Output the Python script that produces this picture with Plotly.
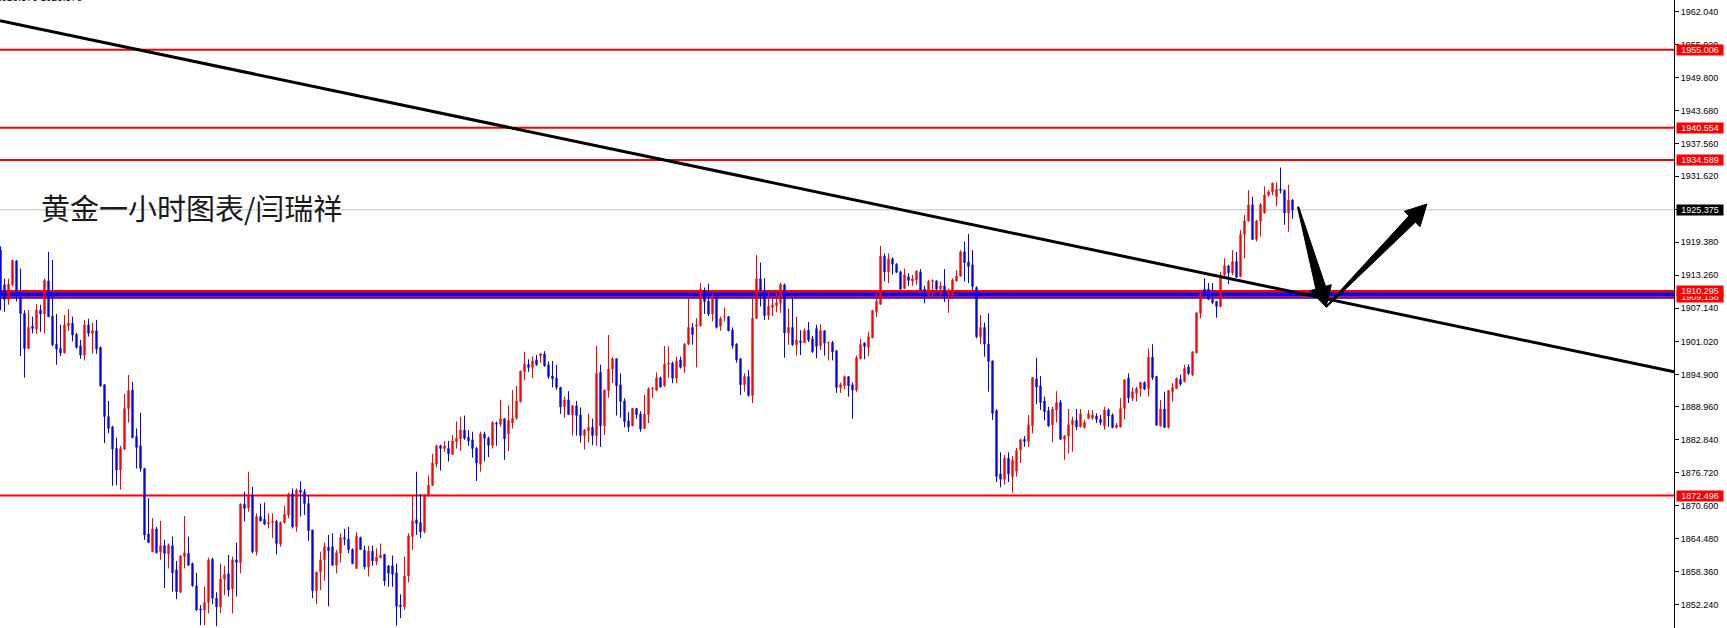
import plotly.graph_objects as go

# ---------------- data (XAUUSD 1H candles) ----------------
opens = [1917.9,1911.5,1908.8,1911.5,1915.9,1909.3,1906.2,1899.7,1903.8,1903.3,1906.8,1906.1,1912.2,1905.7,1900.5,1899.7,1898.9,1903.9,1904.4,1902.3,
1900.2,1898.5,1904.1,1902.5,1903.0,1899.9,1893.0,1887.1,1885.2,1881.2,1877.2,1881.1,1888.6,1892.0,1883.4,1881.7,1877.5,1865.4,1862.1,1866.3,
1862.1,1863.2,1861.7,1863.2,1858.7,1854.6,1861.2,1861.8,1859.9,1855.8,1851.5,1851.3,1852.7,1860.7,1853.5,1851.9,1857.0,1858.0,1855.2,1860.6,
1860.1,1870.9,1870.2,1872.6,1862.1,1868.6,1868.1,1867.3,1867.5,1867.7,1863.5,1867.5,1868.9,1872.8,1866.7,1873.5,1873.2,1871.0,1866.1,1854.9,
1858.3,1860.6,1862.9,1863.0,1859.6,1861.8,1864.7,1864.4,1862.5,1859.0,1864.7,1862.4,1859.3,1862.2,1860.3,1861.0,1861.6,1859.5,1859.5,1858.2,
1852.2,1851.9,1857.6,1864.9,1868.0,1867.5,1865.8,1872.5,1874.4,1878.3,1881.7,1881.2,1881.2,1880.1,1882.5,1883.0,1884.6,1883.3,1882.8,1881.2,
1878.3,1883.9,1883.1,1881.8,1885.9,1885.7,1886.7,1883.9,1885.9,1886.8,1889.9,1895.4,1896.7,1896.2,1897.6,1898.3,1898.7,1896.7,1894.6,1894.2,
1892.5,1888.9,1890.2,1887.4,1889.1,1887.4,1883.6,1884.5,1885.1,1883.6,1895.3,1885.4,1891.9,1895.9,1897.8,1893.0,1890.0,1886.3,1885.4,1888.6,
1887.6,1884.9,1887.5,1892.2,1892.0,1894.3,1892.8,1896.8,1897.0,1894.2,1897.6,1896.4,1900.5,1903.6,1903.8,1903.9,1910.5,1908.5,1906.1,1909.2,
1903.8,1905.5,1905.6,1903.1,1900.5,1897.8,1893.0,1894.5,1891.0,1905.3,1912.6,1910.5,1905.8,1907.3,1907.6,1908.1,1911.5,1902.6,1903.6,1900.4,
1901.1,1900.8,1903.1,1901.5,1903.4,1900.2,1903.0,1900.7,1900.8,1899.3,1892.5,1892.8,1894.5,1893.0,1892.0,1897.8,1900.7,1899.9,1901.7,1906.5,
1907.9,1916.8,1913.9,1916.3,1915.3,1913.9,1910.8,1913.0,1912.2,1912.4,1913.9,1910.7,1909.6,1912.1,1912.2,1910.7,1911.3,1909.6,1909.6,1912.2,
1913.1,1917.6,1915.7,1915.2,1911.0,1901.9,1903.6,1900.5,1897.4,1888.2,1876.5,1875.5,1879.4,1876.0,1877.0,1880.9,1882.9,1882.5,1885.4,1894.1,
1892.8,1890.0,1888.2,1885.6,1888.3,1889.7,1882.9,1883.5,1885.6,1886.4,1885.2,1885.1,1886.8,1886.8,1887.2,1886.6,1885.4,1888.3,1887.4,1885.1,
1885.2,1888.6,1894.2,1890.5,1891.4,1892.3,1893.4,1892.3,1898.1,1894.5,1885.4,1888.5,1885.1,1891.7,1892.3,1894.0,1893.6,1896.3,1894.8,1898.9,
1906.2,1910.7,1910.7,1908.8,1908.4,1907.5,1913.3,1915.0,1913.7,1915.8,1913.0,1920.8,1923.3,1926.3,1919.9,1923.3,1924.8,1928.1,1928.7,1927.8,
1929.2,1929.0,1924.8,1927.2]
highs = [1918.6,1912.6,1912.6,1916.1,1916.1,1914.5,1906.8,1906.8,1905.6,1907.9,1907.8,1912.6,1917.6,1916.1,1906.1,1904.1,1905.9,1907.0,1905.6,1902.6,
1901.3,1905.0,1905.2,1904.5,1905.0,1900.1,1893.0,1890.0,1885.4,1883.2,1881.7,1891.3,1894.8,1893.5,1884.9,1887.8,1877.6,1872.0,1868.3,1866.7,
1867.8,1864.3,1863.6,1864.9,1860.4,1861.4,1868.7,1864.9,1860.1,1858.2,1852.2,1855.6,1861.0,1861.0,1854.6,1859.9,1859.5,1861.5,1861.2,1863.8,
1871.0,1873.2,1876.9,1874.1,1869.2,1871.0,1871.2,1869.2,1869.2,1868.0,1867.7,1870.6,1873.0,1873.8,1873.8,1875.1,1873.7,1872.6,1866.1,1858.4,
1862.1,1863.8,1865.2,1865.5,1862.4,1865.5,1866.3,1866.7,1862.7,1865.7,1864.9,1863.2,1863.2,1863.2,1862.7,1863.6,1861.6,1859.6,1861.4,1859.9,
1854.2,1861.2,1865.5,1872.6,1876.9,1872.8,1872.7,1876.2,1880.2,1881.9,1881.9,1882.6,1882.6,1883.7,1886.2,1887.1,1887.3,1884.6,1884.3,1881.5,
1884.3,1884.3,1883.4,1886.2,1886.2,1890.2,1886.8,1889.2,1892.0,1892.8,1895.6,1899.1,1897.7,1898.2,1898.5,1898.8,1899.2,1897.3,1897.4,1896.7,
1892.6,1890.8,1891.8,1889.2,1890.0,1888.8,1884.8,1887.7,1886.7,1900.2,1896.7,1892.1,1902.2,1898.1,1897.9,1895.1,1890.5,1887.9,1888.7,1888.7,
1888.1,1891.1,1892.5,1892.6,1895.3,1894.5,1900.2,1900.1,1897.3,1898.2,1898.2,1900.7,1909.2,1904.4,1905.3,1911.8,1911.0,1911.7,1909.9,1909.3,
1905.6,1907.3,1905.7,1903.6,1900.7,1898.0,1895.1,1895.7,1909.0,1917.0,1915.6,1912.7,1910.2,1909.0,1910.2,1911.9,1911.7,1907.1,1909.0,1905.6,
1903.1,1903.4,1904.6,1902.0,1904.1,1904.2,1903.1,1901.0,1901.1,1899.4,1893.4,1894.7,1894.6,1893.4,1898.4,1901.5,1900.8,1902.8,1906.8,1910.2,
1918.7,1917.3,1917.3,1916.6,1915.5,1914.1,1914.5,1913.6,1913.3,1914.2,1914.4,1911.3,1912.4,1912.5,1912.3,1912.1,1914.4,1910.8,1912.7,1914.2,
1917.9,1919.5,1920.9,1917.9,1911.2,1905.9,1904.5,1906.2,1897.5,1888.5,1880.5,1880.0,1880.5,1879.8,1881.3,1883.0,1883.5,1887.4,1894.4,1898.0,
1894.6,1890.8,1888.9,1888.9,1891.8,1890.2,1883.7,1888.5,1887.1,1888.5,1888.5,1886.5,1888.3,1888.3,1887.7,1887.4,1888.9,1888.6,1887.7,1885.9,
1890.5,1894.0,1895.1,1892.5,1892.6,1893.5,1893.6,1899.7,1900.5,1894.6,1890.2,1891.7,1892.0,1893.3,1894.3,1894.9,1896.7,1896.8,1899.2,1906.4,
1910.2,1912.7,1911.8,1911.8,1908.5,1913.9,1916.4,1915.2,1917.9,1917.6,1921.6,1924.4,1929.0,1927.8,1923.5,1926.6,1929.7,1929.0,1930.4,1930.4,
1933.2,1929.1,1930.0,1927.3]
lows = [1906.8,1906.5,1907.8,1911.2,1908.4,1898.3,1894.3,1899.6,1902.5,1902.4,1902.8,1902.5,1905.5,1900.1,1896.7,1898.3,1898.8,1903.0,1901.0,1899.7,
1897.8,1897.5,1901.9,1898.8,1898.7,1892.6,1882.2,1884.0,1874.3,1874.4,1873.6,1880.9,1886.0,1883.1,1877.5,1876.9,1864.3,1863.7,1862.0,1861.8,
1860.6,1855.4,1859.0,1854.7,1853.3,1854.4,1859.0,1859.5,1855.6,1851.2,1848.5,1848.5,1850.7,1852.4,1848.3,1850.7,1854.1,1853.8,1850.7,1853.8,
1858.1,1867.7,1869.5,1861.8,1861.4,1867.7,1867.0,1866.4,1864.6,1861.6,1863.0,1867.3,1868.3,1866.4,1865.8,1868.6,1868.9,1864.1,1853.5,1852.4,
1855.0,1856.7,1852.0,1859.5,1858.1,1860.1,1863.3,1861.8,1859.8,1858.9,1862.4,1858.8,1857.5,1859.5,1859.6,1860.9,1855.8,1855.6,1855.6,1848.4,
1849.8,1851.3,1856.4,1862.4,1865.2,1864.6,1865.5,1872.3,1874.3,1877.7,1877.1,1880.6,1878.8,1880.0,1881.2,1880.8,1882.8,1881.7,1879.5,1875.2,
1876.9,1878.8,1879.6,1881.2,1881.7,1885.2,1879.1,1880.7,1884.9,1886.5,1889.7,1893.8,1895.4,1894.2,1896.5,1897.0,1896.3,1894.1,1892.5,1892.1,
1887.6,1886.9,1887.4,1883.6,1883.6,1882.3,1881.0,1882.3,1881.8,1881.7,1881.5,1883.7,1890.6,1893.3,1887.3,1886.9,1885.1,1884.3,1885.3,1886.7,
1884.3,1884.8,1885.9,1890.6,1891.8,1892.5,1892.6,1894.3,1893.3,1893.3,1896.0,1895.2,1900.4,1900.4,1896.2,1903.8,1906.1,1905.7,1904.7,1903.4,
1903.0,1904.7,1902.9,1899.7,1897.1,1891.1,1891.7,1890.8,1889.6,1905.2,1907.5,1905.0,1905.0,1905.7,1906.4,1906.3,1898.0,1900.4,1900.2,1898.4,
1898.5,1900.7,1900.9,1898.9,1897.9,1899.4,1898.4,1897.5,1897.5,1891.5,1891.5,1892.2,1890.8,1886.7,1891.7,1897.7,1897.7,1898.3,1901.6,1905.5,
1907.8,1912.2,1911.8,1913.4,1913.7,1910.5,1910.7,1911.3,1911.3,1911.5,1910.4,1908.1,1909.3,1909.3,1910.5,1908.9,1908.3,1906.3,1909.0,1912.1,
1913.0,1912.1,1911.8,1910.5,1901.6,1900.5,1898.2,1891.7,1886.5,1875.0,1874.0,1874.5,1875.0,1873.0,1876.0,1878.5,1881.5,1881.5,1884.0,1889.4,
1888.3,1886.4,1885.2,1882.3,1886.0,1882.8,1879.1,1880.3,1880.6,1884.6,1885.1,1884.9,1886.6,1886.5,1885.9,1885.5,1884.7,1885.2,1884.9,1884.9,
1885.1,1886.6,1889.6,1890.0,1889.9,1890.8,1892.0,1890.8,1893.9,1885.4,1885.2,1885.0,1884.9,1889.9,1892.2,1892.8,1893.4,1894.8,1894.6,1898.8,
1905.3,1909.6,1908.7,1907.9,1905.4,1907.3,1913.2,1911.6,1913.3,1912.8,1912.9,1916.4,1923.2,1919.8,1919.5,1920.4,1924.7,1927.8,1928.1,1926.1,
1928.4,1922.6,1921.3,1923.7]
closes = [1909.9,1908.8,1911.6,1916.0,1909.6,1906.2,1899.7,1903.6,1903.4,1906.8,1906.1,1912.3,1905.6,1900.4,1899.6,1898.9,1904.1,1904.4,1902.2,1899.9,
1898.5,1904.1,1902.5,1903.0,1899.6,1892.8,1887.1,1884.9,1881.1,1877.2,1881.2,1888.6,1891.9,1883.2,1881.4,1877.5,1865.2,1863.8,1866.3,1861.9,
1863.2,1861.8,1863.3,1858.2,1854.7,1861.3,1861.9,1859.6,1855.8,1851.3,1851.3,1852.7,1860.6,1853.5,1851.9,1857.0,1857.9,1855.0,1860.6,1860.1,
1870.9,1870.1,1872.6,1862.1,1868.6,1867.8,1867.2,1867.5,1867.7,1863.6,1867.5,1869.0,1872.8,1866.7,1873.5,1873.1,1871.0,1866.0,1854.9,1858.3,
1860.6,1863.0,1862.3,1859.6,1861.9,1864.7,1864.4,1862.5,1859.9,1864.9,1862.5,1859.3,1862.2,1860.4,1861.1,1861.5,1856.7,1858.1,1857.9,1852.0,
1851.9,1857.6,1865.0,1867.8,1867.3,1865.8,1872.6,1874.4,1878.5,1881.7,1881.2,1881.7,1880.2,1882.6,1883.1,1884.6,1883.1,1882.6,1881.2,1878.5,
1883.9,1883.1,1881.8,1886.0,1885.7,1886.7,1883.0,1886.4,1886.8,1890.0,1895.5,1896.8,1896.2,1897.4,1896.7,1898.7,1896.5,1894.5,1894.1,1892.5,
1888.9,1890.2,1887.5,1889.1,1887.3,1883.6,1884.6,1885.1,1883.6,1895.1,1885.4,1892.0,1895.9,1897.8,1892.8,1889.9,1886.2,1885.2,1888.6,1887.5,
1884.8,1887.6,1892.2,1892.3,1894.3,1892.6,1896.8,1897.0,1894.2,1897.4,1896.2,1900.5,1903.6,1902.3,1904.1,1910.7,1908.4,1906.1,1909.4,1903.6,
1905.2,1905.6,1903.0,1900.2,1897.6,1893.0,1894.5,1891.0,1905.3,1912.6,1910.5,1905.8,1907.5,1907.8,1908.2,1911.5,1902.6,1903.6,1900.4,1901.3,
1900.8,1903.0,1901.3,1899.1,1900.1,1903.0,1900.7,1900.8,1899.1,1892.5,1893.0,1894.5,1892.8,1892.0,1898.0,1900.5,1900.1,1901.9,1906.7,1908.4,
1916.8,1913.9,1916.3,1915.3,1913.8,1910.7,1913.3,1912.3,1912.6,1914.0,1910.5,1910.4,1912.1,1912.3,1910.7,1911.3,1909.6,1910.5,1912.4,1913.1,
1917.6,1915.6,1914.9,1911.2,1901.9,1903.6,1900.5,1897.3,1887.7,1876.0,1875.5,1879.4,1876.5,1879.0,1880.8,1882.8,1882.5,1885.6,1894.3,1892.6,
1889.7,1888.0,1885.4,1888.5,1889.7,1882.9,1883.5,1885.6,1886.4,1885.2,1887.6,1886.0,1887.6,1887.4,1886.6,1886.0,1888.3,1887.2,1885.1,1885.5,
1888.6,1893.9,1890.6,1891.7,1892.3,1893.4,1892.2,1898.1,1894.3,1885.5,1888.5,1885.1,1891.9,1892.5,1894.2,1893.1,1896.0,1895.1,1899.1,1906.3,
1909.8,1909.8,1908.8,1908.2,1907.5,1913.3,1915.0,1913.7,1915.8,1912.9,1920.8,1923.3,1926.3,1919.9,1923.3,1926.3,1928.1,1928.7,1930.3,1929.2,
1929.0,1924.8,1927.2,1925.375]
bar_index = list(range(len(closes)))

# price-axis tick labels (as printed by the terminal)
tick_values = [1962.04, 1955.92, 1949.80, 1943.68, 1937.56, 1931.62, 1925.50, 1919.38, 1913.26, 1907.14,
               1901.02, 1894.90, 1888.96, 1882.84, 1876.72, 1870.60, 1864.48, 1858.36, 1852.24]
tick_labels = ["%.3f" % v for v in tick_values]

# horizontal support / resistance levels
red_levels = [1955.006, 1940.554, 1934.589, 1872.496]
band_top = 1910.295
band_bottom = 1909.158
current_price = 1925.375

# trend line (price at left edge and right edge of the chart)
trend_left_price = 1960.37
trend_right_price = 1895.41

# hand-drawn arrows: (start bar, start price) -> (tip bar, tip price)
arrow_down = ((324.4, 1925.9), (331.4, 1907.4))
arrow_up = ((331.4, 1907.4), (356.6, 1926.45))

title_text = "黄金一小时图表/闫瑞祥"
header_text = "1925.375 1925.375"

# ---------------- layout geometry ----------------
W, H = 1727, 628
PLOT_W = 1674
BAR_PX = 4.0
X0 = -0.125
X1 = X0 + PLOT_W / BAR_PX
Y_TOP = 1964.205
Y_BOT = Y_TOP - H / 5.403

def to_px(xv, yv):
    return ((xv - X0) / (X1 - X0) * PLOT_W, (Y_TOP - yv) / (Y_TOP - Y_BOT) * H)

def to_data(px, py):
    return (X0 + px / PLOT_W * (X1 - X0), Y_TOP - py / H * (Y_TOP - Y_BOT))

def arrow_path(start, tip, w0, w1, head_len, head_half):
    sx, sy = to_px(*start)
    tx, ty = to_px(*tip)
    dx, dy = tx - sx, ty - sy
    ln = (dx * dx + dy * dy) ** 0.5
    ux, uy = dx / ln, dy / ln
    nx, ny = -uy, ux
    bx, by = tx - ux * head_len, ty - uy * head_len
    pts = [(sx + nx * w0, sy + ny * w0), (bx + nx * w1, by + ny * w1), (bx + nx * head_half, by + ny * head_half),
           (tx, ty), (bx - nx * head_half, by - ny * head_half), (bx - nx * w1, by - ny * w1),
           (sx - nx * w0, sy - ny * w0)]
    d = []
    for k, (px, py) in enumerate(pts):
        xv, yv = to_data(px, py)
        d.append(("M" if k == 0 else "L") + "%.4f,%.4f" % (xv, yv))
    return " ".join(d) + " Z"

fig = go.Figure()
fig.add_trace(go.Candlestick(
    x=bar_index, open=opens, high=highs, low=lows, close=closes,
    increasing=dict(line=dict(color="#FF0000", width=1), fillcolor="#FF0000"),
    decreasing=dict(line=dict(color="#0000FF", width=1), fillcolor="#0000FF"),
    whiskerwidth=0, showlegend=False, hoverinfo="skip"))

shapes = []
# current price line
shapes.append(dict(type="line", xref="paper", x0=0, x1=1, yref="y", y0=current_price, y1=current_price,
                   line=dict(color="#C0C0C0", width=1), layer="below"))
for lv in red_levels:
    shapes.append(dict(type="line", xref="paper", x0=0, x1=1, yref="y", y0=lv, y1=lv,
                       line=dict(color="#FF0000", width=2), layer="below"))
# support band
shapes.append(dict(type="rect", xref="paper", x0=0, x1=1, yref="y", y0=band_bottom + 0.26, y1=band_top - 0.13,
                   fillcolor="#0000FF", line=dict(width=0), layer="below"))
shapes.append(dict(type="line", xref="paper", x0=0, x1=1, yref="y", y0=band_top, y1=band_top,
                   line=dict(color="#FF0000", width=2.5), layer="below"))
shapes.append(dict(type="line", xref="paper", x0=0, x1=1, yref="y", y0=band_bottom + 0.14, y1=band_bottom + 0.14,
                   line=dict(color="#FF0000", width=1.5), layer="below"))
shapes.append(dict(type="line", xref="paper", x0=0, x1=1, yref="y", y0=band_bottom - 0.1, y1=band_bottom - 0.1,
                   line=dict(color="#0000FF", width=1.5), layer="below"))
# trend line
shapes.append(dict(type="line", xref="paper", x0=0, x1=1, yref="y", y0=trend_left_price, y1=trend_right_price,
                   line=dict(color="#000000", width=3), layer="above"))
# arrows
shapes.append(dict(type="path", xref="x", yref="y", path=arrow_path(arrow_down[0], arrow_down[1], 0.6, 5.0, 20, 11),
                   fillcolor="#000000", line=dict(color="#000000", width=1), layer="above"))
shapes.append(dict(type="path", xref="x", yref="y", path=arrow_path(arrow_up[0], arrow_up[1], 0.6, 4.5, 21, 11),
                   fillcolor="#000000", line=dict(color="#000000", width=1), layer="above"))

annotations = []
annotations.append(dict(text=title_text, xref="paper", yref="paper", x=39 / PLOT_W, y=1 - 207 / H,
                        xanchor="left", yanchor="middle", showarrow=False,
                        font=dict(family="Noto Sans CJK SC", size=29, color="#1a1a1a")))
annotations.append(dict(text=header_text, xref="paper", yref="paper", x=-6 / PLOT_W, y=1 + 2 / H,
                        xanchor="left", yanchor="middle", showarrow=False,
                        font=dict(family="Liberation Sans", size=10, color="#000000")))

def price_label(val, bg):
    return dict(text="%.3f" % val, xref="paper", yref="y", x=1 + 2 / PLOT_W, y=val, xanchor="left", yanchor="middle",
                showarrow=False, bgcolor=bg, width=46, height=10, borderpad=0, align="center",
                font=dict(family="Liberation Sans", size=9, color="#FFFFFF"))

annotations.append(price_label(band_bottom, "#FF0000"))
for lv in red_levels + [band_top]:
    annotations.append(price_label(lv, "#FF0000"))
annotations.append(price_label(current_price, "#000000"))

fig.update_layout(
    width=W, height=H, margin=dict(l=0, r=W - PLOT_W, t=0, b=0),
    paper_bgcolor="#FFFFFF", plot_bgcolor="#FFFFFF",
    boxgap=0.55, showlegend=False,
    shapes=shapes, annotations=annotations,
    xaxis=dict(range=[X0, X1], visible=False, rangeslider=dict(visible=False), fixedrange=True),
    yaxis=dict(range=[Y_BOT, Y_TOP], side="right", tickvals=tick_values, ticktext=tick_labels,
               ticks="outside", ticklen=4, tickcolor="#000000", showline=True, linecolor="#000000", linewidth=1,
               showgrid=False, zeroline=False, tickfont=dict(family="Liberation Sans", size=9, color="#000000"),
               fixedrange=True),
)
fig.write_html("out.html", config={"displayModeBar": False},
               post_script="document.body.style.margin='0px';document.body.style.overflow='hidden';")
